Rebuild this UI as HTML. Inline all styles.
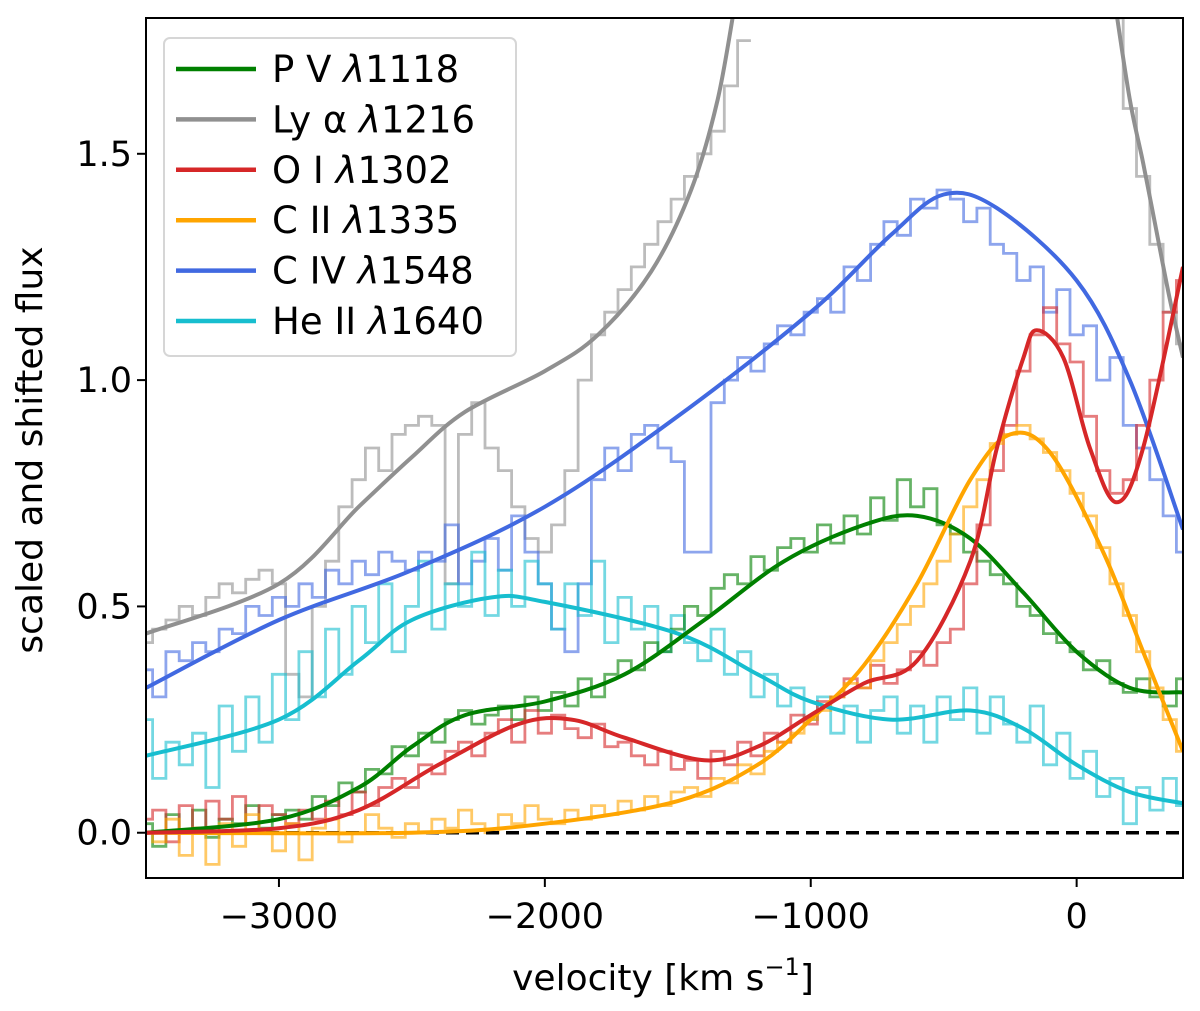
<!DOCTYPE html>
<html><head><meta charset="utf-8"><style>
body{margin:0;background:#fff;}
svg{display:block;font-family:"DejaVu Sans","Liberation Sans",sans-serif;}
</style></head><body>
<svg id="chart" width="1200" height="1011" viewBox="0 0 1200 1011">
<defs><clipPath id="clip"><rect x="146" y="18" width="1037" height="860"/></clipPath></defs>
<rect x="0" y="0" width="1200" height="1011" fill="#fff"/>
<g id="steps" clip-path="url(#clip)"></g>
<g id="zero" clip-path="url(#clip)"></g>
<g id="smooth" clip-path="url(#clip)"></g>
<g id="axes"></g>
<g id="legend"></g>
</svg>
<script>
// ---- data ----
const xTicks = [-3000, -2000, -1000, 0];
const xTickLabels = ["\u22123000", "\u22122000", "\u22121000", "0"];
const yTicks = [0.0, 0.5, 1.0, 1.5];
const yTickLabels = ["0.0", "0.5", "1.0", "1.5"];
const binStart = -3500;
const binWidth = 50;

const pvSteps = [0.02,-0.03,0.04,0.0,0.05,-0.01,0.03,0.02,0.06,0.01,0.04,
0.05,0.03,0.08,0.06,0.11,0.09,0.14,0.13,0.19,0.17,
0.22,0.2,0.25,0.27,0.24,0.26,0.28,0.25,0.3,0.27,
0.31,0.28,0.34,0.3,0.35,0.38,0.36,0.42,0.4,0.45,
0.5,0.48,0.54,0.57,0.55,0.61,0.58,0.63,0.65,0.62,
0.68,0.64,0.7,0.66,0.74,0.69,0.78,0.72,0.76,0.68,
0.66,0.62,0.6,0.57,0.55,0.5,0.48,0.44,0.42,0.4,
0.36,0.38,0.33,0.31,0.34,0.3,0.28,0.34];
const oiSteps = [0.03,0.05,-0.02,0.06,0.01,0.07,0.03,0.08,0.02,0.06,0.04,
0.02,0.05,0.03,0.07,0.04,0.09,0.06,0.1,0.12,0.1,
0.15,0.13,0.18,0.2,0.17,0.22,0.25,0.2,0.27,0.22,
0.26,0.23,0.21,0.24,0.19,0.2,0.17,0.15,0.18,0.14,
0.16,0.12,0.18,0.15,0.2,0.17,0.22,0.2,0.26,0.24,
0.29,0.3,0.34,0.32,0.37,0.33,0.36,0.4,0.37,0.42,
0.45,0.55,0.68,0.8,0.9,1.02,1.1,1.16,1.08,1.04,
0.92,0.8,0.75,0.78,0.9,1.0,1.15,1.22];
const ciiSteps = [0.0,-0.02,0.03,-0.05,0.01,-0.07,0.02,-0.03,0.04,0.0,-0.04,
0.02,-0.06,0.01,0.03,-0.02,0.0,0.04,0.01,-0.01,0.02,
0.0,0.03,0.01,0.05,0.02,0.0,0.04,0.02,0.06,0.03,
0.02,0.05,0.03,0.06,0.04,0.07,0.05,0.08,0.06,0.09,
0.1,0.08,0.12,0.11,0.15,0.13,0.18,0.2,0.22,0.25,
0.27,0.3,0.33,0.32,0.38,0.42,0.46,0.5,0.55,0.6,
0.66,0.72,0.78,0.86,0.88,0.9,0.87,0.84,0.8,0.75,
0.7,0.63,0.55,0.48,0.4,0.32,0.25,0.18];
const heiiSteps = [0.25,0.12,0.2,0.15,0.22,0.1,0.28,0.18,0.3,0.2,0.35,
0.25,0.4,0.3,0.45,0.35,0.5,0.42,0.55,0.4,0.5,
0.6,0.45,0.55,0.5,0.62,0.48,0.58,0.5,0.6,0.55,
0.45,0.55,0.48,0.6,0.42,0.52,0.45,0.5,0.4,0.48,
0.42,0.38,0.45,0.35,0.4,0.3,0.35,0.28,0.32,0.25,
0.3,0.22,0.28,0.2,0.27,0.3,0.22,0.28,0.2,0.3,
0.25,0.32,0.22,0.3,0.24,0.2,0.28,0.15,0.22,0.12,
0.18,0.08,0.12,0.02,0.1,0.05,0.12,0.06];
const civSteps = [0.36,0.3,0.4,0.38,0.42,0.4,0.45,0.44,0.5,0.48,0.52,
0.5,0.55,0.52,0.58,0.55,0.6,0.57,0.62,0.6,0.58,
0.62,0.6,0.68,0.55,0.6,0.65,0.58,0.7,0.62,0.55,
0.45,0.4,0.55,0.78,0.85,0.8,0.88,0.9,0.85,0.82,
0.62,0.62,0.95,1.0,1.05,1.02,1.08,1.12,1.1,1.15,
1.18,1.15,1.25,1.22,1.3,1.35,1.32,1.4,1.38,1.42,
1.4,1.35,1.38,1.3,1.28,1.22,1.25,1.15,1.2,1.1,
1.12,1.0,1.05,0.9,0.85,0.78,0.7,0.62];
const lyaStepsBlue = [0.42,0.45,0.47,0.5,0.48,0.52,0.55,0.53,0.56,0.58,0.55,
0.35,0.3,0.5,0.6,0.72,0.78,0.85,0.8,0.88,0.9,
0.92,0.9,0.55,0.88,0.95,0.85,0.8,0.72,0.65,0.62,
0.68,0.8,1.0,1.1,1.15,1.2,1.25,1.3,1.35,1.4,
1.45,1.5,1.55,1.65,1.75];
const lyaRedStart = 150;
const lyaStepsRed = [1.8,1.6,1.45,1.3,1.15,1.08];

const lyaFitVel = [-3500,-3000,-2700,-2500,-2300,-2000,-1800,-1600,-1450,-1350,-1280];
const lyaFitFlux = [0.44,0.55,0.72,0.83,0.93,1.02,1.1,1.24,1.42,1.62,1.85];
const lyaFitVel2 = [140,200,250,300,350,400];
const lyaFitFlux2 = [1.85,1.62,1.48,1.33,1.18,1.05];
const civFitVel = [-3500,-3000,-2500,-2000,-1500,-1000,-700,-500,-300,0,200,400];
const civFitFlux = [0.32,0.47,0.58,0.72,0.92,1.15,1.32,1.41,1.38,1.22,1.0,0.67];
const heiiFitVel = [-3500,-3000,-2700,-2500,-2200,-2000,-1500,-1200,-1000,-700,-400,-200,0,200,400];
const heiiFitFlux = [0.17,0.25,0.38,0.47,0.52,0.51,0.44,0.35,0.29,0.25,0.27,0.23,0.15,0.09,0.065];
const pvFitVel = [-3500,-3000,-2700,-2500,-2300,-2000,-1700,-1400,-1100,-800,-600,-400,-200,0,200,400];
const pvFitFlux = [0.0,0.03,0.10,0.19,0.26,0.29,0.35,0.47,0.6,0.68,0.70,0.65,0.53,0.40,0.32,0.31];
const oiFitVel = [-3500,-3000,-2700,-2400,-2100,-1900,-1700,-1400,-1200,-1000,-800,-600,-400,-300,-200,-150,-50,50,150,250,400];
const oiFitFlux = [0,0.01,0.05,0.15,0.24,0.25,0.21,0.16,0.19,0.26,0.33,0.38,0.6,0.85,1.05,1.11,1.05,0.85,0.73,0.85,1.25];
const ciiFitVel = [-3500,-2500,-2000,-1500,-1200,-1000,-800,-600,-400,-250,-100,100,250,400];
const ciiFitFlux = [0,0,0.02,0.07,0.15,0.25,0.37,0.55,0.78,0.88,0.84,0.62,0.4,0.18];

const legendNames = ["P V ","Ly \u03b1 ","O I ","C II ","C IV ","He II "];
const legendWaves = ["1118","1216","1302","1335","1548","1640"];
const legendColors = ["#008000","#909090","#d62728","#ffa500","#4169e1","#17becf"];

// ---- axes functions ----
const X0=146,X1=1183,Y0=18,Y1=878, XMIN=-3500,XMAX=400,YMIN=-0.1,YMAX=1.8;
const sx=v=>X0+(v-XMIN)/(XMAX-XMIN)*(X1-X0);
const sy=f=>Y1-(f-YMIN)/(YMAX-YMIN)*(Y1-Y0);
const NS="http://www.w3.org/2000/svg";
function mk(tag,attrs,parent){const e=document.createElementNS(NS,tag);for(const k in attrs)e.setAttribute(k,attrs[k]);parent.appendChild(e);return e;}

function stepPath(start,vals){
  let d="";
  vals.forEach((v,i)=>{const a=sx(start+i*binWidth-binWidth/2),b=sx(start+i*binWidth+binWidth/2),y=sy(v);
    d+=(i===0?"M":"L")+a.toFixed(1)+","+y.toFixed(1)+"L"+b.toFixed(1)+","+y.toFixed(1);});
  return d;
}
function smoothPath(vs,fs){
  const p=vs.map((v,i)=>[sx(v),sy(fs[i])]);
  let d="M"+p[0][0]+","+p[0][1];
  for(let i=0;i<p.length-1;i++){
    const p0=p[i-1]||p[i],p1=p[i],p2=p[i+1],p3=p[i+2]||p2;
    const c1=[p1[0]+(p2[0]-p0[0])/6,p1[1]+(p2[1]-p0[1])/6];
    const c2=[p2[0]-(p3[0]-p1[0])/6,p2[1]-(p3[1]-p1[1])/6];
    d+="C"+c1[0].toFixed(1)+","+c1[1].toFixed(1)+" "+c2[0].toFixed(1)+","+c2[1].toFixed(1)+" "+p2[0].toFixed(1)+","+p2[1].toFixed(1);
  }
  return d;
}
const steps=document.getElementById('steps');
const smooth=document.getElementById('smooth');
function addStep(name,start,vals,color){
  const e=mk('path',{d:stepPath(start,vals),fill:'none',stroke:color,'stroke-width':2.8,'stroke-opacity':0.6},steps);
  
  
}
function addFit(name,vs,fs,color){
  const e=mk('path',{d:smoothPath(vs,fs),fill:'none',stroke:color,'stroke-width':4},smooth);
  
  
}
addStep('lya-binned-blue',binStart,lyaStepsBlue,legendColors[1]);
addStep('lya-binned-red',lyaRedStart,lyaStepsRed,legendColors[1]);
addStep('civ-binned',binStart,civSteps,legendColors[4]);
addStep('heii-binned',binStart,heiiSteps,legendColors[5]);
addStep('pv-binned',binStart,pvSteps,legendColors[0]);
addStep('oi-binned',binStart,oiSteps,legendColors[2]);
addStep('cii-binned',binStart,ciiSteps,legendColors[3]);

const z=mk('line',{x1:X0,x2:X1,y1:sy(0),y2:sy(0),stroke:'#000','stroke-width':3.5,'stroke-dasharray':'13,7'},document.getElementById('zero'));



addFit('lya-fit-blue',lyaFitVel,lyaFitFlux,legendColors[1]);
addFit('lya-fit-red',lyaFitVel2,lyaFitFlux2,legendColors[1]);
addFit('civ-fit',civFitVel,civFitFlux,legendColors[4]);
addFit('heii-fit',heiiFitVel,heiiFitFlux,legendColors[5]);
addFit('pv-fit',pvFitVel,pvFitFlux,legendColors[0]);
addFit('cii-fit',ciiFitVel,ciiFitFlux,legendColors[3]);
addFit('oi-fit',oiFitVel,oiFitFlux,legendColors[2]);

// axes
const ax=document.getElementById('axes');
const fr=mk('rect',{x:X0,y:Y0,width:X1-X0,height:Y1-Y0,fill:'none',stroke:'#000','stroke-width':2},ax);


xTicks.forEach((t,i)=>{
  mk('line',{x1:sx(t),x2:sx(t),y1:Y1,y2:Y1+9,stroke:'#000','stroke-width':2},ax);
  const tx=mk('text',{x:sx(t),y:Y1+50,'text-anchor':'middle','font-size':35},ax);
  tx.textContent=xTickLabels[i];
  
  
});
yTicks.forEach((t,i)=>{
  mk('line',{x1:X0-9,x2:X0,y1:sy(t),y2:sy(t),stroke:'#000','stroke-width':2},ax);
  const tx=mk('text',{x:X0-14,y:sy(t)+12,'text-anchor':'end','font-size':35},ax);
  tx.textContent=yTickLabels[i];
  
  
});
const xt=mk('text',{x:663,y:990,'text-anchor':'middle','font-size':36},ax);
xt.innerHTML='velocity [km s<tspan dy="-15" font-size="24">\u22121</tspan><tspan dy="15">]</tspan>';


const yt=mk('text',{x:0,y:0,'text-anchor':'middle','font-size':36,transform:'translate(42,450) rotate(-90)'},ax);
yt.textContent='scaled and shifted flux';



// legend
const lg=document.getElementById('legend');
mk('rect',{x:164,y:38,width:352,height:318,rx:6,fill:'#fff','fill-opacity':0.85,stroke:'#d6d6d6','stroke-width':2},lg);
legendNames.forEach((l,i)=>{
  const g=mk('g',{},lg);
  
  
  const y=69+i*50.4;
  mk('line',{x1:176,x2:256,y1:y,y2:y,stroke:legendColors[i],'stroke-width':4.5},g);
  const t=mk('text',{x:272,y:y+13,'font-size':37},g);
  t.innerHTML=l+'<tspan font-style="italic">\u03bb</tspan>'+legendWaves[i];
});
</script>
</body></html>
